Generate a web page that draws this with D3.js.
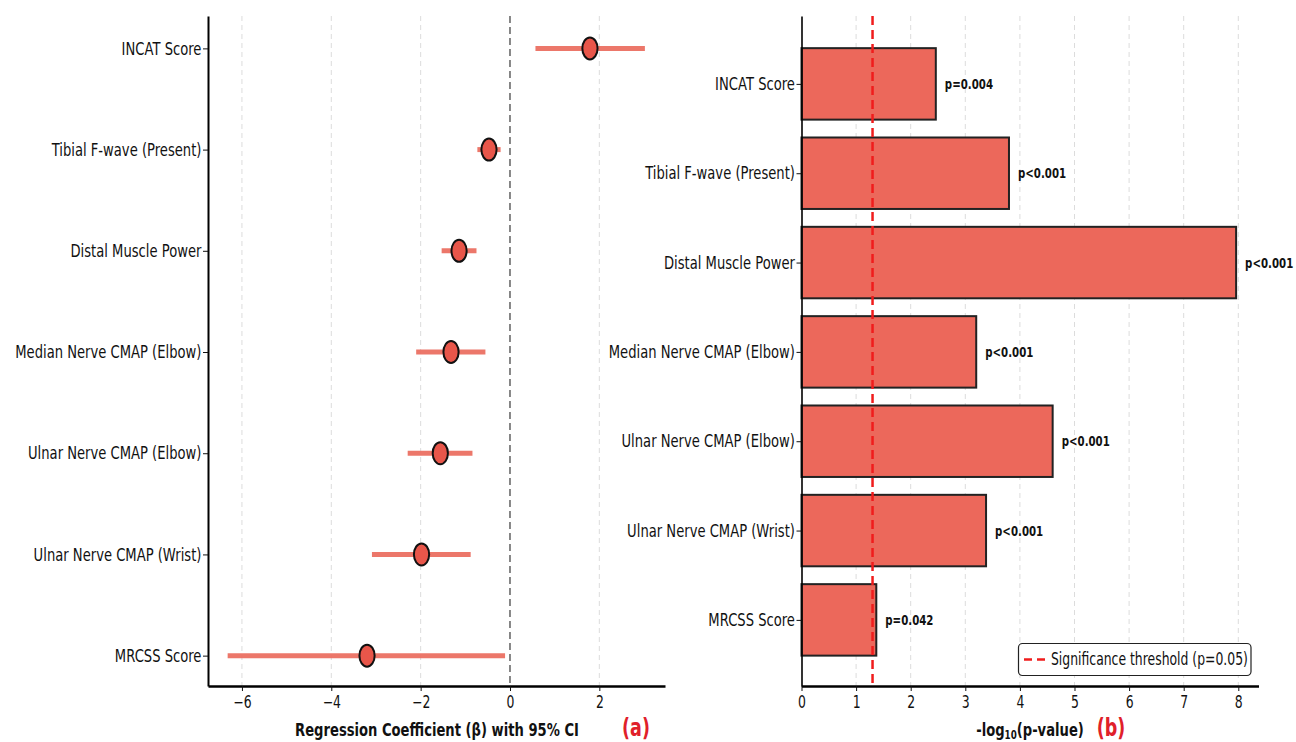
<!DOCTYPE html>
<html>
<head>
<meta charset="utf-8">
<script src="https://cdn.jsdelivr.net/npm/d3@7"></script>
<style>
  body { margin: 0; background: #fff; }
  svg text { font-family: "DejaVu Sans", sans-serif; fill: #111; }
</style>
</head>
<body>
<div id="chart"></div>
<script>
// data
var labels = ["INCAT Score", "Tibial F-wave (Present)", "Distal Muscle Power",
    "Median Nerve CMAP (Elbow)", "Ulnar Nerve CMAP (Elbow)", "Ulnar Nerve CMAP (Wrist)", "MRCSS Score"];
var beta = [1.79, -0.47, -1.14, -1.32, -1.56, -1.98, -3.20];
var ciLow = [0.57, -0.73, -1.53, -2.10, -2.29, -3.09, -6.32];
var ciHigh = [3.02, -0.21, -0.75, -0.55, -0.84, -0.88, -0.11];
var negLogP = [2.46, 3.80, 7.96, 3.20, 4.60, 3.38, 1.37];
var pLabels = ["p=0.004", "p<0.001", "p<0.001", "p<0.001", "p<0.001", "p<0.001", "p=0.042"];
var betaTicks = [-6, -4, -2, 0, 2];
var pTicks = [0, 1, 2, 3, 4, 5, 6, 7, 8];
var threshold = -Math.log10(0.05);

const SX = 0.73;          // horizontal squeeze of the reference picture
const BAR_COLOR = "#ec685b";
const CI_COLOR = "#ec7063";
const DOT_COLOR = "#e8564a";

var svg = d3.select("#chart").append("svg")
    .attr("width", 1296).attr("height", 742);

function squeeze(sel) {
    sel.attr("transform", function () {
        var t = d3.select(this).attr("transform") || "";
        return t + " scale(" + SX + ",1)";
    });
}

function label(x, y, txt, opts) {
    opts = opts || {};
    return svg.append("text")
        .attr("transform", "translate(" + x + "," + y + ") scale(" + SX + ",1)")
        .attr("text-anchor", opts.anchor || "start")
        .style("font-size", (opts.size || 15) + "px")
        .style("font-weight", opts.bold ? "bold" : "normal")
        .style("fill", opts.color || "#111")
        .text(txt);
}

// ---------- panel (a) ----------
var plotTop = 16, plotBottom = 686;
var xA = d3.scaleLinear().domain([-6.76, 3.47]).range([208, 665]);
var yA = d3.scaleLinear().domain([-0.32, 6.3]).range([plotTop, plotBottom]);

var gA = svg.append("g");
gA.selectAll(".gridA").data(betaTicks.filter(function (d) { return d !== 0; }))
    .enter().append("line")
    .attr("x1", function (d) { return xA(d); }).attr("x2", function (d) { return xA(d); })
    .attr("y1", plotTop).attr("y2", plotBottom)
    .style("stroke", "#dcdcdc").style("stroke-width", 1).style("stroke-dasharray", "5,4");

gA.append("line")
    .attr("x1", xA(0)).attr("x2", xA(0)).attr("y1", plotTop).attr("y2", plotBottom)
    .style("stroke", "#555").style("stroke-width", 1.4).style("stroke-dasharray", "7,4");

gA.selectAll(".ci").data(labels).enter().append("line")
    .attr("x1", function (d, i) { return xA(ciLow[i]); })
    .attr("x2", function (d, i) { return xA(ciHigh[i]); })
    .attr("y1", function (d, i) { return yA(i); })
    .attr("y2", function (d, i) { return yA(i); })
    .style("stroke", CI_COLOR).style("stroke-width", 5).style("opacity", 0.95);

gA.selectAll(".dot").data(labels).enter().append("ellipse")
    .attr("cx", function (d, i) { return xA(beta[i]); })
    .attr("cy", function (d, i) { return yA(i); })
    .attr("rx", 7.6).attr("ry", 11)
    .style("fill", DOT_COLOR).style("stroke", "#111").style("stroke-width", 2);

var axA = svg.append("g").attr("transform", "translate(0," + plotBottom + ")")
    .call(d3.axisBottom(xA).tickValues(betaTicks).tickSize(5).tickSizeOuter(0));
axA.select(".domain").style("stroke-width", 2.5);
axA.selectAll("text").style("font-size", "17px").attr("y", 10);
squeeze(axA.selectAll(".tick text"));

var ayA = svg.append("g").attr("transform", "translate(208,0)")
    .call(d3.axisLeft(yA)
        .tickValues(d3.range(labels.length)).tickFormat(function (i) { return labels[i]; })
        .tickSize(5).tickSizeOuter(0));
ayA.select(".domain").style("stroke-width", 2);
ayA.selectAll("text").style("font-size", "18px").attr("x", -9);
squeeze(ayA.selectAll(".tick text"));

label(437, 736, "Regression Coefficient (\u03b2) with 95% CI", { anchor: "middle", size: 18, bold: true });
label(636, 736, "(a)", { anchor: "middle", size: 24, bold: true, color: "#e0202a" });

// ---------- panel (b) ----------
var xB = d3.scaleLinear().domain([0, 8.37]).range([801.5, 1258.5]);
var yB = d3.scaleLinear().domain([-0.76, 6.74]).range([plotTop, plotBottom]);
var barH = yB(0.4) - yB(-0.4);

var gB = svg.append("g");
gB.selectAll(".gridB").data(pTicks.filter(function (d) { return d > 0; }))
    .enter().append("line")
    .attr("x1", function (d) { return xB(d); }).attr("x2", function (d) { return xB(d); })
    .attr("y1", plotTop).attr("y2", plotBottom)
    .style("stroke", "#dcdcdc").style("stroke-width", 1).style("stroke-dasharray", "5,4");

gB.selectAll(".bar").data(labels).enter().append("rect")
    .attr("x", xB(0))
    .attr("y", function (d, i) { return yB(i) - barH / 2; })
    .attr("width", function (d, i) { return xB(negLogP[i]) - xB(0); })
    .attr("height", barH)
    .style("fill", BAR_COLOR).style("stroke", "#222").style("stroke-width", 2);

gB.selectAll(".plab").data(labels).enter().append("text")
    .attr("transform", function (d, i) {
        return "translate(" + (xB(negLogP[i]) + 9) + "," + (yB(i) + 5) + ") scale(" + SX + ",1)";
    })
    .style("font-size", "14px").style("font-weight", "bold")
    .text(function (d, i) { return pLabels[i]; });

gB.append("line")
    .attr("x1", xB(threshold)).attr("x2", xB(threshold)).attr("y1", plotTop).attr("y2", plotBottom)
    .style("stroke", "#f01c1c").style("stroke-width", 2.5).style("stroke-dasharray", "9,5");

var axB = svg.append("g").attr("transform", "translate(0," + plotBottom + ")")
    .call(d3.axisBottom(xB).tickValues(pTicks).tickSize(5).tickSizeOuter(0));
axB.select(".domain").style("stroke-width", 2.5);
axB.selectAll("text").style("font-size", "17px").attr("y", 10);
squeeze(axB.selectAll(".tick text"));

var ayB = svg.append("g").attr("transform", "translate(801.5,0)")
    .call(d3.axisLeft(yB).tickValues(d3.range(labels.length))
        .tickFormat(function (i) { return labels[i]; }).tickSize(5).tickSizeOuter(0));
ayB.select(".domain").style("stroke-width", 1.6);
ayB.selectAll("text").style("font-size", "18px").attr("x", -9);
squeeze(ayB.selectAll(".tick text"));

var xt = svg.append("text")
    .attr("transform", "translate(1030,736) scale(" + SX + ",1)")
    .attr("text-anchor", "middle")
    .style("font-size", "18px").style("font-weight", "bold");
xt.append("tspan").text("-log");
xt.append("tspan").text("10").style("font-size", "12px").attr("dy", 3);
xt.append("tspan").text("(p-value)").attr("dy", -3);
label(1111, 736, "(b)", { anchor: "middle", size: 24, bold: true, color: "#e0202a" });

// legend
var lg = svg.append("g");
lg.append("rect").attr("x", 1018.5).attr("y", 643.5).attr("width", 232.5).attr("height", 32)
    .attr("rx", 4).style("fill", "#fff").style("stroke", "#222").style("stroke-width", 1.2);
lg.append("line").attr("x1", 1024).attr("x2", 1047).attr("y1", 659.5).attr("y2", 659.5)
    .style("stroke", "#f01c1c").style("stroke-width", 2.5).style("stroke-dasharray", "8,5");
label(1051, 665, "Significance threshold (p=0.05)", { size: 17 });

svg.selectAll(".tick line").style("stroke", "#111");
</script>
</body>
</html>
